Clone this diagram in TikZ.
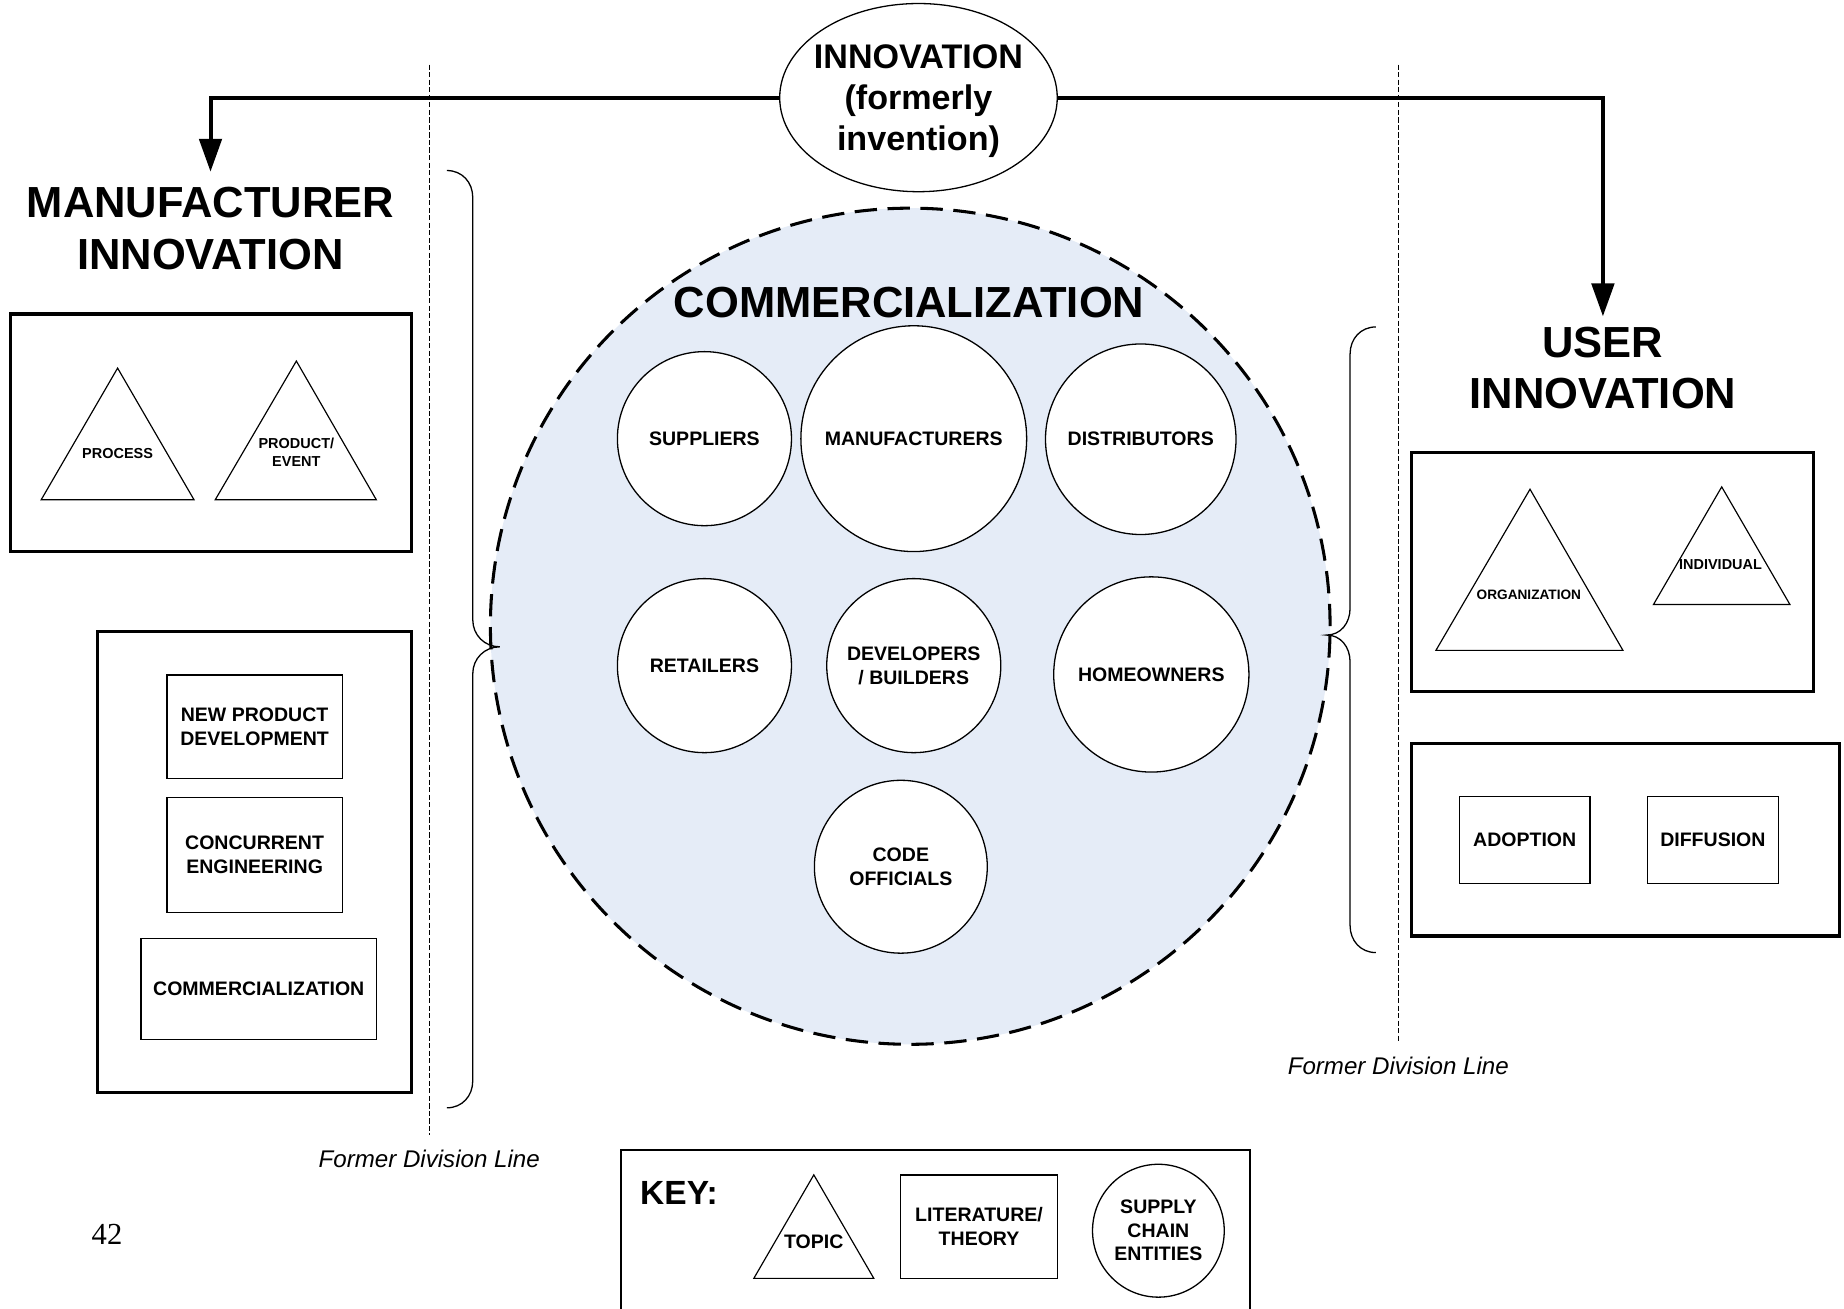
\documentclass[tikz,border=0pt]{standalone}
\usepackage{fontspec}
\setmainfont{Liberation Sans}
\newfontfamily\numfont{Liberation Serif}
\usetikzlibrary{shapes.geometric,arrows.meta}
\definecolor{commblue}{RGB}{229,236,247}
\begin{document}
\begin{tikzpicture}[x=0.5pt,y=-0.5pt,
  thickbox/.style={draw, line width=1.4pt, rectangle, inner sep=0pt},
  litbox/.style={draw, line width=0.55pt, rectangle, inner sep=0pt, align=center,
    font=\fontsize{8.3}{10}\selectfont\bfseries},
  entity/.style={draw, circle, line width=0.55pt, fill=white, inner sep=0pt, align=center,
    font=\fontsize{8.3}{10}\selectfont\bfseries},
  topicline/.style={line width=0.5pt, line join=miter},
  topiclabel/.style={font=\fontsize{6.15}{7.5}\selectfont\bfseries, align=center, inner sep=0pt},
  heading/.style={font=\fontsize{18.5}{22}\selectfont\bfseries, align=center, inner sep=0pt},
  flow/.style={line width=1.7pt, -{Triangle[width=9.5pt,length=14pt]}},
  divline/.style={line width=0.4pt, dash pattern=on 2.2pt off 1pt},
  divlabel/.style={font=\fontsize{10.25}{12}\selectfont\itshape, inner sep=0pt},
  bracket/.style={line width=0.55pt, draw=black}
]
\useasboundingbox (0,0) rectangle (1568,1113);

% former division lines
\coordinate (dlt) at (365,55);
\coordinate (dlb) at (365,965);
\coordinate (drt) at (1189,55);
\coordinate (drb) at (1189,885);
\draw[divline] (dlt) -- (dlb);
\draw[divline] (drt) -- (drb);
\node[divlabel] (divl) at (365,985) {Former Division Line};
\node[divlabel] (divr) at (1189,906) {Former Division Line};

% top innovation ellipse
\node[draw, ellipse, line width=0.55pt, minimum width=118pt, minimum height=80pt,
  inner xsep=-8pt, inner ysep=0pt] (innov) at (781,83) {};
\node[align=center, inner sep=0pt, font=\fontsize{14.5}{17.25}\selectfont\bfseries]
  (innovtext) at (781,86) {INNOVATION\\(formerly\\invention)};

% headings
\node[heading] (mtitle) at (179,194) {MANUFACTURER\\INNOVATION};
\node[heading] (utitle) at (1363,313) {USER\\INNOVATION};
\coordinate (mtip) at (179,146);
\coordinate (utip) at (1363,269);
\draw[flow] (innov.west) -| (mtip);
\draw[flow] (innov.east) -| (utip);

% big commercialization circle
\node[draw, ellipse, line width=1.3pt, dash pattern=on 9.5pt off 4.5pt, fill=commblue,
  minimum width=357pt, minimum height=355.5pt, inner sep=0pt] (comm) at (774,532.5) {};
\node[heading] (commtitle) at (773,257) {COMMERCIALIZATION};

% braces
\draw[bracket] (380,145) .. controls (393,145) and (402,155) .. (402,168)
  -- (402,527) .. controls (402,540) and (412,550) .. (425,550)
  .. controls (412,550) and (402,560) .. (402,573)
  -- (402,919) .. controls (402,932) and (393,942) .. (380,942);
\draw[bracket] (1170,278) .. controls (1157,278) and (1148,288) .. (1148,301)
  -- (1148,517) .. controls (1148,530) and (1140,540) .. (1128,540)
  .. controls (1140,540) and (1148,550) .. (1148,563)
  -- (1148,787) .. controls (1148,800) and (1157,810) .. (1170,810);

% supply chain entities
\node[entity, minimum size=74pt] (suppliers) at (599,373) {SUPPLIERS};
\node[entity, minimum size=96pt] (manufacturers) at (777,373) {MANUFACTURERS};
\node[entity, minimum size=81pt] (distributors) at (970,373.5) {DISTRIBUTORS};
\node[entity, minimum size=74pt] (retailers) at (599,566) {RETAILERS};
\node[entity, minimum size=74pt] (developers) at (777,566) {DEVELOPERS\\/ BUILDERS};
\node[entity, minimum size=83pt] (homeowners) at (979,573.5) {HOMEOWNERS};
\node[entity, minimum size=73.5pt] (codeoff) at (766,737) {CODE\\OFFICIALS};

% manufacturer innovation boxes
\node[thickbox, minimum width=170.5pt, minimum height=101pt] (mtopics) at (179.5,368) {};
\draw[topicline] (100,313) -- (165,425) -- (35,425) -- cycle;
\node[topiclabel] (process) at (100,386) {PROCESS};
\draw[topicline] (252,307) -- (320,425) -- (183,425) -- cycle;
\node[topiclabel] (product) at (252,384.5) {PRODUCT/\\EVENT};

\node[thickbox, minimum width=133.5pt, minimum height=196pt] (mlit) at (216.5,733) {};
\node[litbox, minimum width=74.5pt, minimum height=44pt] (npd) at (216.5,618) {NEW PRODUCT\\DEVELOPMENT};
\node[litbox, minimum width=74.5pt, minimum height=49pt] (ce) at (216.5,727) {CONCURRENT\\ENGINEERING};
\node[litbox, minimum width=100pt, minimum height=43pt] (mcomm) at (220,841) {COMMERCIALIZATION};

% user innovation boxes
\node[thickbox, minimum width=171pt, minimum height=101.5pt] (utopics) at (1371,486.5) {};
\draw[topicline] (1301,416) -- (1380,553) -- (1221,553) -- cycle;
\node[topiclabel, font=\fontsize{5.8}{7}\selectfont\bfseries] (org) at (1300,506) {ORGANIZATION};
\draw[topicline] (1464,414) -- (1522,514) -- (1406,514) -- cycle;
\node[topiclabel] (indiv) at (1463,480) {INDIVIDUAL};

\node[thickbox, minimum width=182pt, minimum height=82pt] (ulit) at (1382,714) {};
\node[litbox, minimum width=55.5pt, minimum height=37pt] (adoption) at (1296.5,714) {ADOPTION};
\node[litbox, minimum width=55.5pt, minimum height=37pt] (diffusion) at (1456.5,714) {DIFFUSION};

% key
\draw[line width=0.6pt] (528,1125) -- (528,978) -- (1063,978) -- (1063,1125);
\node[anchor=west, inner sep=0pt, font=\fontsize{14.25}{16}\selectfont\bfseries] (keylabel) at (544,1014) {KEY:};
\draw[topicline] (692,999) -- (743,1087) -- (641,1087) -- cycle;
\node[inner sep=0pt, font=\fontsize{8.3}{10}\selectfont\bfseries] (keytopic) at (692,1056) {TOPIC};
\node[litbox, minimum width=66.5pt, minimum height=44pt] (keylit) at (832.5,1043) {LITERATURE/\\THEORY};
\node[draw, ellipse, line width=0.55pt, minimum width=56pt, minimum height=56.5pt, inner sep=0pt,
  align=center, font=\fontsize{8.3}{10}\selectfont\bfseries] (keyent) at (985,1046.5) {SUPPLY\\CHAIN\\ENTITIES};

% page number
\node[inner sep=0pt, font=\numfont\fontsize{13}{15}\selectfont] (pagenum) at (91,1050) {42};
\end{tikzpicture}
\end{document}
